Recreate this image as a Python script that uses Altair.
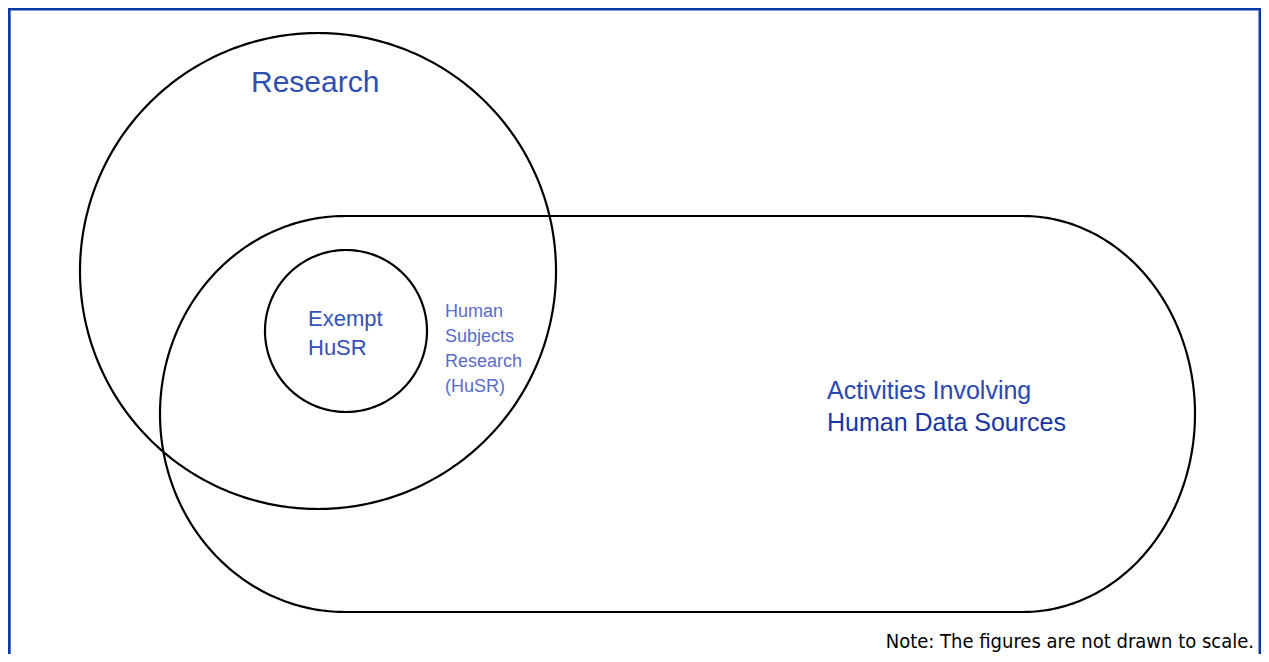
import numpy as np
import pandas as pd
import altair as alt

# ---- page frame (screen coordinates, px) ----
X_MIN, X_MAX = 8, 1261
Y_MIN, Y_MAX = 8, 654

# ---- diagram shapes ----
circle_names = ["Research", "Exempt HuSR"]
circle_cx = [318, 346]
circle_cy = [271, 331]
circle_r = [238, 81]

stadium_name = "Activities Involving Human Data Sources"
stadium_left_cx = 345
stadium_right_cx = 1023
stadium_cy = 414
stadium_ry = 198
stadium_left_rx = 185
stadium_right_rx = 172

# ---- border (left, top, right) ----
frame_x = [9.2, 8, 1260]
frame_x2 = [9.2, 1261, 1260]
frame_y = [654, 9, 654]
frame_y2 = [8, 9, 8]

# ---- labels ----
label_text = ["Research", "Exempt", "HuSR", "Human", "Subjects", "Research", "(HuSR)",
              "Activities Involving", "Human Data Sources"]
label_x = [251, 308, 308, 445, 445, 445, 445, 827, 827]
label_y = [92, 326, 355, 317, 342, 367, 392, 399, 431]
label_size = [30, 22, 22, 18, 18, 18, 18, 25, 25]
label_color = ["#2f4fb0", "#3450b8", "#3450b8", "#5a6cc8", "#5a6cc8", "#5a6cc8", "#5a6cc8",
               "#2a48b0", "#1a36a4"]

note_text = ["Note: The figures are not drawn to scale."]
note_x = [1254]
note_y = [648]

# ---- build outlines ----
rows = []
t = np.linspace(0, 2 * np.pi, 361)
for name, cx, cy, r in zip(circle_names, circle_cx, circle_cy, circle_r):
    for i, a in enumerate(t):
        rows.append({"shape": name, "i": i, "x": cx + r * np.cos(a), "y": cy + r * np.sin(a)})

pts = []
pts.append((stadium_left_cx, stadium_cy - stadium_ry))
pts.append((stadium_right_cx, stadium_cy - stadium_ry))
for a in np.linspace(-np.pi / 2, np.pi / 2, 181):
    pts.append((stadium_right_cx + stadium_right_rx * np.cos(a), stadium_cy + stadium_ry * np.sin(a)))
pts.append((stadium_left_cx, stadium_cy + stadium_ry))
for a in np.linspace(np.pi / 2, 3 * np.pi / 2, 181):
    pts.append((stadium_left_cx + stadium_left_rx * np.cos(a), stadium_cy + stadium_ry * np.sin(a)))
pts.append((stadium_left_cx, stadium_cy - stadium_ry))
for i, (px, py) in enumerate(pts):
    rows.append({"shape": stadium_name, "i": i, "x": px, "y": py})

outline = pd.DataFrame(rows)
frame = pd.DataFrame({"x": frame_x, "x2": frame_x2, "y": frame_y, "y2": frame_y2})
labels = pd.DataFrame({"text": label_text, "x": label_x, "y": label_y,
                       "size": label_size, "color": label_color})
note = pd.DataFrame({"text": note_text, "x": note_x, "y": note_y})

xs = alt.Scale(domain=[X_MIN, X_MAX], nice=False, zero=False)
ys = alt.Scale(domain=[Y_MIN, Y_MAX], nice=False, zero=False, reverse=True)

lines = alt.Chart(outline).mark_line(color="black", strokeWidth=2.2, clip=False).encode(
    x=alt.X("x:Q", scale=xs, axis=None),
    y=alt.Y("y:Q", scale=ys, axis=None),
    detail="shape:N",
    order="i:Q",
)

border = alt.Chart(frame).mark_rule(color="#0a3aa8", strokeWidth=3, clip=False).encode(
    x=alt.X("x:Q", scale=xs, axis=None),
    x2="x2:Q",
    y=alt.Y("y:Q", scale=ys, axis=None),
    y2="y2:Q",
)

text = alt.Chart(labels).mark_text(align="left", baseline="alphabetic",
                                   font="Liberation Sans", clip=False).encode(
    x=alt.X("x:Q", scale=xs, axis=None),
    y=alt.Y("y:Q", scale=ys, axis=None),
    text="text:N",
    size=alt.Size("size:Q", scale=None, legend=None),
    color=alt.Color("color:N", scale=None, legend=None),
)

note_layer = alt.Chart(note).mark_text(align="right", baseline="alphabetic",
                                       font="DejaVu Sans Condensed, Liberation Sans, sans-serif",
                                       fontSize=20, color="black", clip=False).encode(
    x=alt.X("x:Q", scale=xs, axis=None),
    y=alt.Y("y:Q", scale=ys, axis=None),
    text="text:N",
)

chart = alt.layer(border, lines, text, note_layer).properties(
    width=X_MAX - X_MIN, height=Y_MAX - Y_MIN,
    autosize=alt.AutoSizeParams(type="none"), padding=0,
).configure_view(stroke=None).configure(background="white")

chart.save("out.html", embed_options={"renderer": "svg", "actions": False})
